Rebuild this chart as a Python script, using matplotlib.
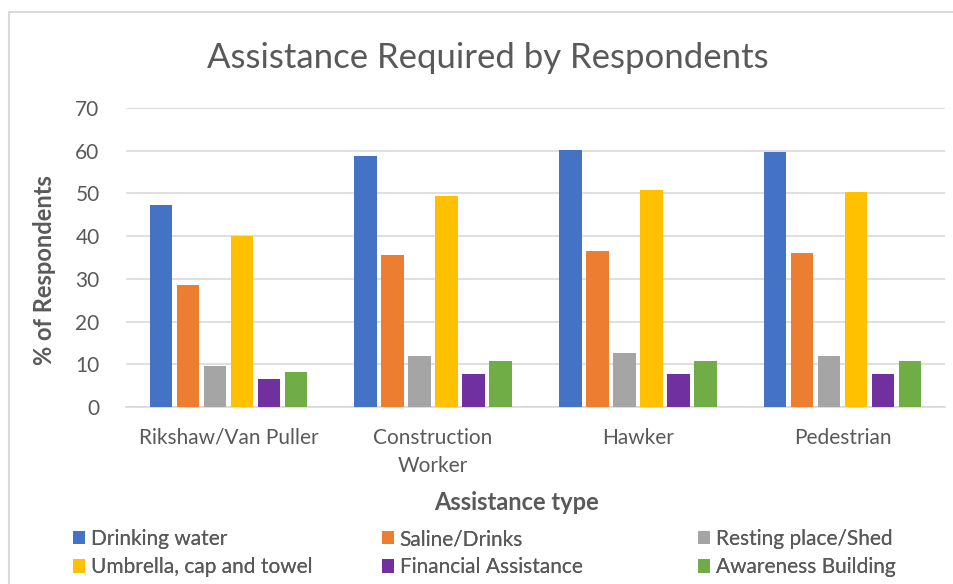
import numpy as np
import matplotlib.pyplot as plt
from matplotlib.patches import Rectangle

# Data
categories = ['Rikshaw/Van Puller', 'Construction\nWorker', 'Hawker', 'Pedestrian']
series = ['Drinking water', 'Saline/Drinks', 'Resting place/Shed',
          'Umbrella, cap and towel', 'Financial Assistance', 'Awareness Building']
drinking = [47.4, 58.8, 60.2, 59.8]
saline = [28.5, 35.6, 36.6, 36.1]
resting = [9.7, 12.0, 12.6, 12.0]
umbrella = [40.0, 49.4, 50.7, 50.3]
financial = [6.5, 7.8, 7.8, 7.8]
awareness = [8.3, 10.7, 10.7, 10.7]
colors = ['#4472c4', '#ed7d31', '#a5a5a5', '#ffc000', '#7030a0', '#70ad47']

values = [drinking, saline, resting, umbrella, financial, awareness]

plt.rcParams['font.family'] = ['Lato', 'DejaVu Sans']
txt = '#595959'

fig = plt.figure(figsize=(9.54, 5.84), dpi=100)
fig.patches.append(Rectangle((9/954, -0.1), 1.2, 1 - 12/584 + 0.1,
                             transform=fig.transFigure, fill=False,
                             edgecolor='#d9d9d9', linewidth=1.5))

ax = fig.add_axes([126/954, 1 - 407/584, (945 - 126)/954, (407 - 108)/584])
x = np.arange(len(categories))
pitch = 0.132
w = 0.11
for i, (v, c, name) in enumerate(zip(values, colors, series)):
    ax.bar(x + (i - 2.5) * pitch, v, width=w, color=c, label=name, zorder=3)

ax.set_xlim(-0.5, 3.5)
ax.set_ylim(0, 70)
ax.set_yticks(range(0, 71, 10))
ax.set_xticks(x)
ax.set_xticklabels(categories, fontsize=15, color=txt, linespacing=1.5)
ax.tick_params(axis='y', labelsize=15, colors=txt, length=0, pad=19)
ax.tick_params(axis='x', length=0, pad=15)
ax.grid(axis='y', color='#d9d9d9', linewidth=1.2, zorder=0)
for s in ['top', 'right', 'left']:
    ax.spines[s].set_visible(False)
ax.spines['bottom'].set_color('#d9d9d9')
ax.spines['bottom'].set_linewidth(1.2)

fig.text(488/954, 1 - 58/584, 'Assistance Required by Respondents',
         ha='center', va='center', fontsize=25, color=txt)
fig.text(45/954, 1 - 270/584, '% of Respondents', rotation=90, ha='center',
         va='center', fontsize=17, fontweight='bold', color=txt)
fig.text(517/954, 1 - 502/584, 'Assistance type', ha='center', va='center',
         fontsize=17, fontweight='bold', color=txt)

# legend: three columns placed one by one
h, l = ax.get_legend_handles_labels()
col_x = [73, 382, 698]
for j in range(3):
    lg = fig.legend([h[j], h[j + 3]], [l[j], l[j + 3]], loc='upper left',
                    bbox_to_anchor=(col_x[j]/954, 1 - 529/584),
                    frameon=False, fontsize=15, labelcolor=txt,
                    handlelength=0.6, handleheight=0.6, handletextpad=0.25,
                    labelspacing=0.4, borderaxespad=0, borderpad=0)
    fig.add_artist(lg)

plt.savefig('out.png', dpi=100)
